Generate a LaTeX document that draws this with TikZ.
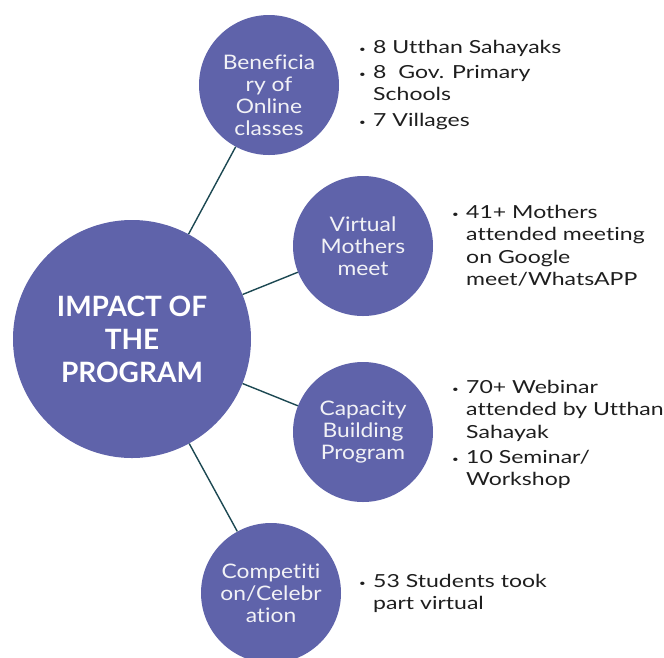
\documentclass[tikz,border=0pt]{standalone}
\usepackage{fontspec}
\setmainfont{Lato}[Ligatures=NoCommon]
\newfontfamily\listfont{Lato}[FakeStretch=1.28,Ligatures=NoCommon]
\newfontfamily\circfont{Lato}[FakeStretch=1.14,Ligatures=NoCommon]
\definecolor{circfill}{RGB}{95,99,170}
\definecolor{linkcol}{RGB}{28,72,82}
\definecolor{txtcol}{RGB}{30,30,30}
\definecolor{circtxt}{RGB}{242,242,246}
\newcommand{\bul}{\makebox[14pt][l]{\raisebox{1pt}{\small•}}}
\newcommand{\cont}{\hspace*{14pt}}
\begin{document}
\begin{tikzpicture}[x=1pt,y=-1pt,
  bigcirc/.style={circle,fill=circfill,minimum size=238pt,inner sep=0pt,text=white,
    font=\fontsize{28}{33}\selectfont\bfseries,align=center},
  smallcirc/.style={circle,fill=circfill,minimum size=140pt,inner sep=0pt,text=circtxt,
    font=\circfont\fontsize{20}{22}\selectfont,align=center},
  circlabel/.style={inner sep=0pt,text=circtxt,
    font=\circfont\fontsize{20}{22}\selectfont,align=center},
  link/.style={draw=linkcol,line width=1.4pt},
  blist/.style={anchor=north west,inner sep=0pt,align=left,text=txtcol,
    font=\listfont\fontsize{18}{22.5}\selectfont}]
\useasboundingbox (0,0) rectangle (664,657);
\node[bigcirc] (main) at (132,339) {IMPACT OF\\THE\\PROGRAM};
\node[smallcirc] (benef) at (269,85) {};
\node[circlabel] (beneftext) at (269,95) {Beneficia\\ry of\\Online\\classes};
\node[smallcirc] (virt) at (363,246) {Virtual\\Mothers\\meet};
\node[smallcirc] (cap) at (363,432) {Capacity\\Building\\Program};
\node[smallcirc] (comp) at (271,593) {Competiti\\on/Celebr\\ation};
\draw[link] (main) -- (benef);
\draw[link] (main) -- (virt);
\draw[link] (main) -- (cap);
\draw[link] (main) -- (comp);
\node[blist] (l1) at (359,40) {\bul 8 Utthan Sahayaks\\[2.5pt]\bul 8~ Gov. Primary\\\cont Schools\\[3pt]\bul 7 Villages};
\node[blist] (l2) at (452,205) {\bul 41+ Mothers\\\cont attended meeting\\\cont on Google\\\cont meet/WhatsAPP};
\node[blist] (l3) at (452,380) {\bul 70+ Webinar\\\cont attended by Utthan\\\cont Sahayak\\[2.5pt]\bul 10 Seminar/\\\cont Workshop};
\node[blist] (l4) at (359,574) {\bul 53 Students took\\\cont part virtual};
\end{tikzpicture}
\end{document}
